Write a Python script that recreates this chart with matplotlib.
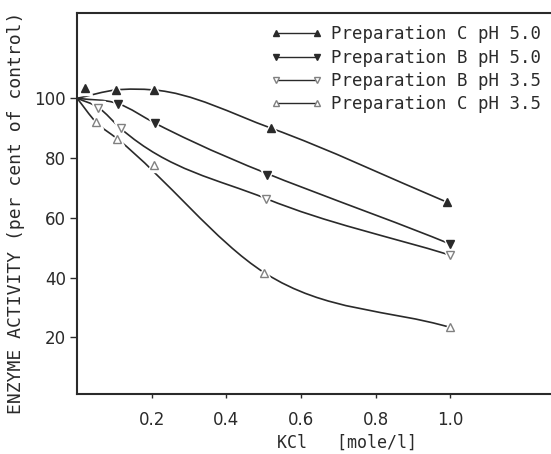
import numpy as np
import matplotlib
matplotlib.use("Agg")
import matplotlib.pyplot as plt
from matplotlib.path import Path
from matplotlib.patches import PathPatch
from matplotlib.lines import Line2D

plt.rcParams['font.family'] = ['DejaVu Sans']

# values (KCl mole/l vs. % of control)
start_x, start_y = 0.0, 100.0

c50_x = [0.02, 0.105, 0.205, 0.52, 0.99]
c50_y = [103.4, 102.8, 102.8, 90.0, 65.3]
c50_on_curve = [False, True, True, True, True]

b50_x = [0.11, 0.21, 0.51, 1.0]
b50_y = [98.2, 91.6, 74.2, 51.2]
b50_on_curve = [True, True, False, True]

b35_x = [0.057, 0.117, 0.507, 1.0]
b35_y = [96.9, 89.9, 66.4, 47.5]
b35_on_curve = [True, True, True, True]

c35_x = [0.05, 0.107, 0.206, 0.502, 1.0]
c35_y = [92.1, 86.5, 77.6, 41.6, 23.3]
c35_on_curve = [True, True, False, True, True]

labels = ["Preparation C pH 5.0", "Preparation B pH 5.0",
          "Preparation B pH 3.5", "Preparation C pH 3.5"]

ink = "#2a2a2a"
grey = "#808080"
mono = "DejaVu Sans Mono"


def smooth_path(xs, ys):
    # cubic Hermite through the points, written as bezier segments
    xs = np.asarray(xs, float)
    ys = np.asarray(ys, float)
    h = np.diff(xs)
    d = np.diff(ys) / h
    m = np.zeros_like(xs)
    m[0] = d[0]
    m[-1] = d[-1]
    for i in range(1, len(xs) - 1):
        m[i] = (h[i] * d[i - 1] + h[i - 1] * d[i]) / (h[i - 1] + h[i])
    verts = [(xs[0], ys[0])]
    codes = [Path.MOVETO]
    for i in range(len(xs) - 1):
        verts += [(xs[i] + h[i] / 3, ys[i] + m[i] * h[i] / 3),
                  (xs[i + 1] - h[i] / 3, ys[i + 1] - m[i + 1] * h[i] / 3),
                  (xs[i + 1], ys[i + 1])]
        codes += [Path.CURVE4] * 3
    return Path(verts, codes)


fig = plt.figure(figsize=(5.51, 4.54), dpi=100)
ax = fig.add_axes([0.14, 0.132, 0.86, 0.839])

series = [
    (c50_x, c50_y, c50_on_curve, '^', ink, ink),
    (b50_x, b50_y, b50_on_curve, 'v', ink, ink),
    (b35_x, b35_y, b35_on_curve, 'v', 'white', grey),
    (c35_x, c35_y, c35_on_curve, '^', 'white', grey),
]

handles = []
for xs, ys, on_curve, mk, face, edge in series:
    cx = [start_x] + [x for x, k in zip(xs, on_curve) if k]
    cy = [start_y] + [y for y, k in zip(ys, on_curve) if k]
    ax.add_patch(PathPatch(smooth_path(cx, cy), fill=False, edgecolor=ink,
                           lw=1.2, zorder=2))
    ax.plot(xs, ys, linestyle='none', marker=mk, markersize=9.5,
            color='white', zorder=3)
    ax.plot(xs, ys, linestyle='none', marker=mk, markersize=6,
            markerfacecolor=face, markeredgecolor=edge, markeredgewidth=1.0,
            zorder=4)
    handles.append(Line2D([], [], color=ink, lw=1.0, marker=mk, markersize=4.5,
                          markerfacecolor=face, markeredgecolor=edge))

ax.set_xlim(0, 1.27)
ax.set_ylim(1, 128.5)
ax.set_xticks([0.2, 0.4, 0.6, 0.8, 1.0])
ax.set_xticklabels(["0.2", "0.4", "0.6", "0.8", "1.0"])
ax.set_yticks([20, 40, 60, 80, 100])
ax.tick_params(axis='both', direction='out', length=5, width=1.0,
               colors=ink, labelsize=12, pad=3)
ax.tick_params(axis='x', length=3, pad=9)

for side in ['left', 'top', 'bottom']:
    ax.spines[side].set_color(ink)
    ax.spines[side].set_linewidth(1.5)
ax.spines['right'].set_visible(False)

ax.set_xlabel("KCl   [mole/l]", fontsize=12, color=ink, family=mono)
ax.xaxis.set_label_coords(0.57, -0.105)
ax.set_ylabel("ENZYME ACTIVITY (per cent of control)", fontsize=13,
              color=ink, family=mono)
ax.yaxis.set_label_coords(-0.11, 0.475)

leg = ax.legend(handles, labels, loc='upper right', bbox_to_anchor=(1.0, 0.995),
                frameon=False, numpoints=2, handlelength=3.0, handletextpad=0.46,
                labelspacing=0.3, borderaxespad=0.2,
                prop={'family': mono, 'size': 12.5})
for t in leg.get_texts():
    t.set_color(ink)

fig.savefig("out.png", dpi=100)
